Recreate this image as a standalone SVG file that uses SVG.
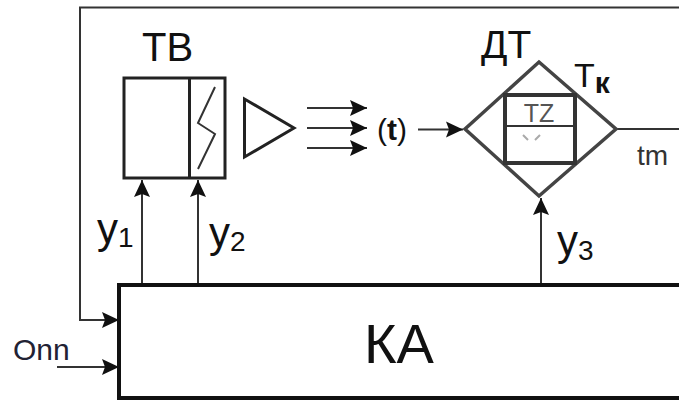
<svg xmlns="http://www.w3.org/2000/svg" width="679" height="401" viewBox="0 0 679 401">
<style>
text{font-family:"Liberation Sans",Arial,sans-serif;fill:#111}
.l{fill:none;stroke:#333;stroke-width:2}
.b{fill:none;stroke:#222;stroke-width:3}
.g{fill:none;stroke:#444;stroke-width:3.500}
.k{fill:none;stroke:#333;stroke-width:4}
</style>
<defs><marker id="a" markerUnits="userSpaceOnUse" markerWidth="18" markerHeight="18" refX="17" refY="9" orient="auto"><path d="M0 1L17 9L0 17L3 9Z" fill="#111"/></marker></defs>
<rect width="679" height="401" fill="#fff"/>
<g id="connectors">
<path class="l" d="M679 7.500H80V320H119" marker-end="url(#a)"/>
<path class="l" d="M57 367H119" marker-end="url(#a)"/>
<path class="l" d="M142 284V180" marker-end="url(#a)"/>
<path class="l" d="M198 284V180" marker-end="url(#a)"/>
<path class="l" d="M541 284V198" marker-end="url(#a)"/>
<path class="l" d="M307 108H367" marker-end="url(#a)"/>
<path class="l" d="M307 128H367" marker-end="url(#a)"/>
<path class="l" d="M307 148H367" marker-end="url(#a)"/>
<path class="l" d="M418 129.500H463" marker-end="url(#a)"/>
<path class="l" d="M616 129H679"/>
</g>
<g id="TB">
<rect class="b" x="124" y="78" width="101" height="100"/>
<path class="b" d="M189.500 78V178"/>
<path class="l" stroke-width="2.500" d="M215 87L198 123L215 134L198 169"/>
<text x="142" y="61" font-size="40">ТВ</text>
</g>
<g id="amp"><path class="b" d="M244.500 99V157L294 128Z"/></g>
<g id="t"><text x="377" y="140" font-size="30">(<tspan font-weight="bold">t</tspan>)</text></g>
<g id="DT">
<path class="g" d="M539 62L616 129L539 196L465 129Z"/>
<rect class="k" x="505" y="95" width="70" height="68"/>
<path d="M505 126H575" stroke="#333" stroke-width="2"/>
<text x="539" y="122" font-size="25" text-anchor="middle" style="fill:#555">TZ</text>
<path d="M523 135L528 140M540 135L535 140" stroke="#aaa" stroke-width="2" fill="none"/>
<text x="481" y="58" font-size="39">ДТ</text>
<text x="574" y="87" font-size="34">Т<tspan font-size="30" font-weight="bold" dy="6">к</tspan></text>
<text x="637" y="165" font-size="28" style="fill:#333">tm</text>
</g>
<g id="KA">
<path d="M679 285H119V398H679" fill="none" stroke="#111" stroke-width="4"/>
<text x="399" y="363" font-size="56" text-anchor="middle">КА</text>
</g>
<g id="labels">
<text x="97" y="243" font-size="42">у<tspan font-size="28" dy="4">1</tspan></text>
<text x="209" y="247" font-size="42">у<tspan font-size="28" dy="4">2</tspan></text>
<text x="557" y="255" font-size="42">у<tspan font-size="28" dy="5">3</tspan></text>
<text x="13" y="360" font-size="30" style="fill:#223">Onn</text>
</g>
</svg>
